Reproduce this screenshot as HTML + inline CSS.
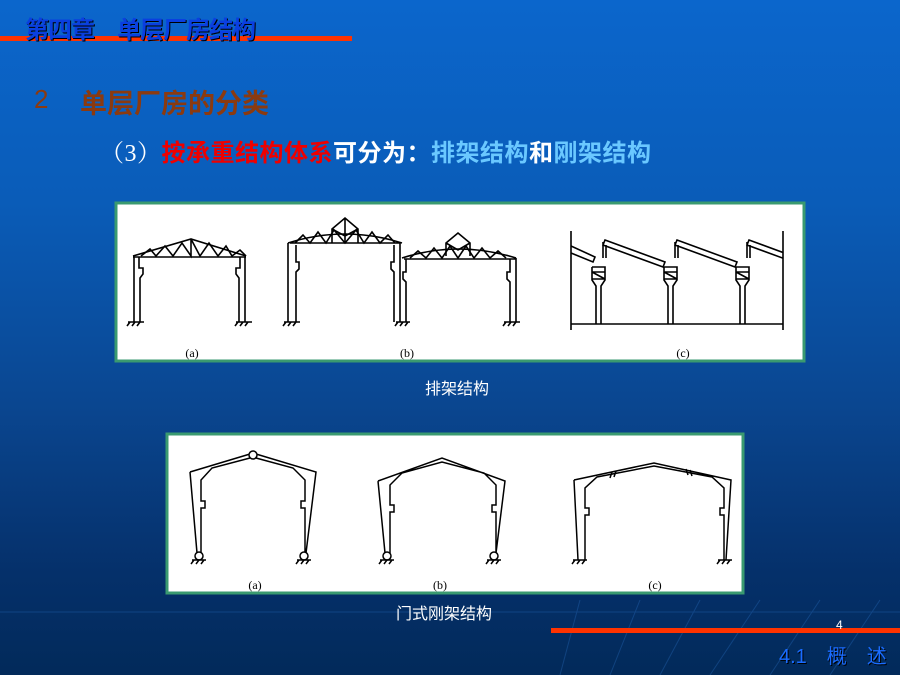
<!DOCTYPE html>
<html><head><meta charset="utf-8"><style>
html,body{margin:0;padding:0}
body{width:900px;height:675px;position:relative;overflow:hidden;background:linear-gradient(180deg,#0b66cc 0%,#0a5cb8 30%,#0a4690 60%,#05306a 85%,#022a5a 100%);font-family:"Liberation Sans","Noto Sans CJK SC",sans-serif}
.t{position:absolute;white-space:nowrap}
</style></head><body>
<svg width="900" height="675" style="position:absolute;left:0;top:0">
<defs><clipPath id="cc"><rect x="571" y="220" width="212" height="120"/></clipPath></defs>
<g stroke="#2a6fc0" stroke-width="1" opacity="0.35" fill="none">
<line x1="0" y1="612" x2="900" y2="612"/>
<line x1="560" y1="675" x2="580" y2="600"/>
<line x1="610" y1="675" x2="640" y2="600"/>
<line x1="660" y1="675" x2="700" y2="600"/>
<line x1="710" y1="675" x2="760" y2="600"/>
<line x1="770" y1="675" x2="820" y2="600"/>
<line x1="830" y1="675" x2="880" y2="600"/>
</g>
<rect x="0" y="36" width="352" height="5" fill="#ff3300"/>
<rect x="551" y="628" width="349" height="5" fill="#ff3300"/>
<rect x="116" y="203" width="688" height="158" fill="#fff" stroke="#3a9a70" stroke-width="3"/>
<g stroke="#000" stroke-width="1.6" fill="none">
<polyline points="133,256 191,239 246,256"/>
<line x1="133" y1="257" x2="246" y2="257"/>
<polyline points="141,256 150,249 156,256 165,246 173,256 182,243 191,256 191,239 200,256 209,243 218,256 226,246 232,256 240,250 246,256"/>
<path d="M134,257 V322 M139,257 V268 h4 v6 l-3,4 V322 M245,257 V322 M240,257 V268 h-4 v6 l3,4 V322"/>
<path d="M128,322 h16 M130,322 l-3,4 M135,322 l-3,4 M140,322 l-3,4 M236,322 h16 M238,322 l-3,4 M243,322 l-3,4 M248,322 l-3,4"/>
<path d="M288,243 Q345,225 402,243 M290,243 H400"/>
<polyline points="295,243 303,235 310,243 318,232 326,243 334,230 345,243 356,230 364,243 372,232 380,243 388,235 395,243"/>
<path d="M332,243 V229 L345,218 L358,229 V243 M332,229 L345,236 L358,229 M345,218 V243"/>
<path d="M288,243 V322 M296,245 V262 h3 v7 l-3,3 V322 M394,245 V262 h-3 v7 l3,3 V322 M400,243 V322"/>
<path d="M402,258 Q458,240 516,258 M404,259 H516"/>
<polyline points="410,258 418,251 426,258 434,248 442,258 450,246 458,258 466,246 474,258 482,248 490,258 498,251 506,258"/>
<path d="M446,256 V243 L458,233 L470,243 V256 M446,243 L458,250 L470,243"/>
<path d="M406,259 V272 h-3 v7 l3,3 V322 M510,259 V272 h-3 v7 l3,3 V322 M516,258 V322"/>
<path d="M284,322 h16 M286,322 l-3,4 M291,322 l-3,4 M296,322 l-3,4 M396,322 h14 M398,322 l-3,4 M403,322 l-3,4 M408,322 l-3,4 M504,322 h16 M506,322 l-3,4 M511,322 l-3,4 M516,322 l-3,4"/>
<path d="M571,231 V330 M783,231 V330 M571,324 H783"/>
<g clip-path="url(#cc)">
<path d="M571,246 L595,257 L593,262 L571,253"/>
<g id="saw">
<path d="M605,240 L665,262 L663,267 L603,245 Z M603,242 V258 M606,245 V258"/>
<path d="M592,267 H605 V280 L601,286 V324 M592,267 V280 L596,286 V324 M592,272 H605 M592,272 L605,279 M592,279 H605"/>
</g>
<use href="#saw" x="72"/>
<use href="#saw" x="144"/>
</g>
</g>
<rect x="167" y="434" width="576" height="159" fill="#fff" stroke="#3a9a70" stroke-width="3"/>
<g stroke="#000" stroke-width="1.5" fill="none">
<path d="M190,472 L250,454 M256,454 L316,472 L306,553 M190,472 L197,553 M201,553 V508 h4 v-7 h-4 V480 L212,468 L250,458 M256,458 L293,468 L305,480 V501 h-4 v7 h4 V553"/>
<circle cx="253" cy="455" r="4" fill="#fff"/>
<circle cx="199" cy="556" r="4" fill="#fff"/><circle cx="304" cy="556" r="4" fill="#fff"/>
<path d="M192,560 h14 M194,560 l-3,4 M199,560 l-3,4 M204,560 l-3,4 M297,560 h14 M299,560 l-3,4 M304,560 l-3,4 M309,560 l-3,4"/>
<path d="M378,481 L442,458 L505,481 L496,553 M378,481 L385,553 M390,553 V512 h4 v-7 h-4 V485 L402,473 L442,462 L484,473 L496,485 V505 h-4 v7 h4 V553"/>
<circle cx="387" cy="556" r="4" fill="#fff"/><circle cx="494" cy="556" r="4" fill="#fff"/>
<path d="M380,560 h14 M382,560 l-3,4 M387,560 l-3,4 M392,560 l-3,4 M487,560 h14 M489,560 l-3,4 M494,560 l-3,4 M499,560 l-3,4"/>
<path d="M574,480 L654,463 L731,480 L726,560 M574,480 L578,560 M585,560 V515 h4 v-7 h-4 V488 L597,477 L654,466 L712,477 L724,488 V508 h-4 v7 h4 V560"/>
<path d="M612,472 l-2,6 M616,471 l-2,6 M686,469 l2,6 M690,470 l2,6"/>
<path d="M573,560 h14 M575,560 l-3,4 M580,560 l-3,4 M585,560 l-3,4 M718,560 h14 M720,560 l-3,4 M725,560 l-3,4 M730,560 l-3,4"/>
</g>
<g font-family="Liberation Serif,serif" font-size="12" fill="#000" text-anchor="middle">
<text x="192" y="357">(a)</text><text x="407" y="357">(b)</text><text x="683" y="357">(c)</text>
<text x="255" y="589">(a)</text><text x="440" y="589">(b)</text><text x="655" y="589">(c)</text>
</g>
</svg>
<div class="t" style="left:25px;top:10px;font-size:24px;font-weight:bold;color:#0a3fe0;text-shadow:1px 1px 0 #000;letter-spacing:-1px;font-family:'Noto Sans CJK SC',sans-serif">第四章　单层厂房结构</div>
<div class="t" style="left:34px;top:84px;font-size:26px;color:#8b3a10;">2</div>
<div class="t" style="left:80px;top:82px;font-size:27px;font-weight:bold;color:#8b3a10;">单层厂房的分类</div>
<div class="t" style="left:100px;top:133px;font-size:24px;font-weight:bold;color:#fff;letter-spacing:0.5px;font-family:'Liberation Sans','Noto Sans CJK SC',sans-serif"><span style="font-weight:normal;font-family:'Liberation Serif','Noto Serif CJK SC',serif">（3）</span><span style="color:#ee0000">按承重结构体系</span>可分为：<span style="color:#6ac8ff">排架结构</span>和<span style="color:#6ac8ff">刚架结构</span></div>
<div class="t" style="left:425px;top:375px;font-size:16px;color:#fff">排架结构</div>
<div class="t" style="left:396px;top:600px;font-size:16px;color:#fff">门式刚架结构</div>
<div class="t" style="left:836px;top:618px;font-size:12px;color:#fff">4</div>
<div class="t" style="left:779px;top:640px;font-size:20px;color:#1a6cff;text-shadow:1px 1px 0 #000">4.1　概　述</div>
</body></html>
